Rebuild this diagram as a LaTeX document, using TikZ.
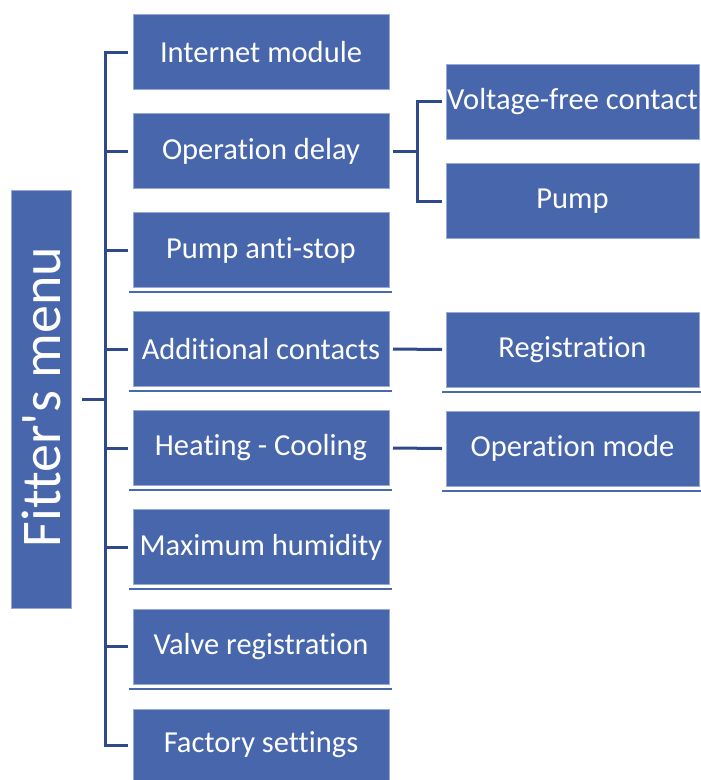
\documentclass[tikz,border=0pt]{standalone}
\usepackage{fontspec}
\setmainfont{Carlito}[Ligatures={NoCommon}]
\definecolor{boxblue}{RGB}{72,102,172}
\definecolor{boxedge}{RGB}{150,168,212}
\definecolor{connblue}{RGB}{46,74,138}
\definecolor{ulblue}{RGB}{74,106,176}
\tikzset{
  menubox/.style={rectangle, fill=boxblue, draw=boxedge, line width=0.7pt,
    text=white, inner sep=0pt, outer sep=0pt, minimum width=256pt, minimum height=75pt,
    font=\fontsize{30.5}{33}\selectfont},
  subbox/.style={menubox, minimum width=253pt},
  conn/.style={draw=connblue, line width=3pt},
  uline/.style={draw=ulblue, line width=2pt}
}
\begin{document}
\begin{tikzpicture}[x=1pt, y=-1pt]
\useasboundingbox (0,0) rectangle (701,780);
% left root
\node[menubox, minimum width=60pt, minimum height=418pt] (fm) at (41,399) {};
\node[rotate=90, text=white, font=\fontsize{56}{62}\selectfont] (fmt) at (41,397) {Fitter\textquotesingle s menu};
% main column
\node[menubox] (im) at (261,52) {Internet module};
\node[menubox] (od) at (261,151) {Operation delay};
\node[menubox] (pa) at (261,250) {Pump anti-stop};
\node[menubox] (ac) at (261,349) {Additional contacts};
\node[menubox] (hc) at (261,448) {Heating - Cooling};
\node[menubox] (mh) at (261,547) {Maximum humidity};
\node[menubox] (vr) at (261,646.5) {Valve registration};
\node[menubox, minimum height=80pt] (fs) at (261,749) {};
\node[text=white, font=\fontsize{30.5}{33}\selectfont] (fst) at (261,745) {Factory settings};
% right column
\node[subbox] (vf) at (572.5,101.5) {Voltage-free contact};
\node[subbox] (pu) at (572.5,201) {Pump};
\node[subbox] (rg) at (572.5,349.5) {Registration};
\node[subbox] (om) at (572.5,448.5) {Operation mode};
% trunk
\coordinate (trunk) at (105,0);
\coordinate (branch) at (417,0);
\draw[conn] ([xshift=-5pt]im.west) -| (trunk |- fst.west) -- ([xshift=-5pt]fst.west -| fs.west);
\foreach \n in {od,pa,ac,hc,mh,vr}{
  \draw[conn] (trunk |- \n.west) -- ([xshift=-5pt]\n.west);
}
\draw[conn] ([xshift=11pt]fm.east) -- (trunk |- fm.east);
% operation delay branch
\draw[conn] ([xshift=4pt]od.east) -- (branch |- od.east);
\draw[conn] ([xshift=-4pt]vf.west) -| (branch |- pu.west) -- ([xshift=-4pt]pu.west);
\draw[conn] ([xshift=4pt]ac.east) -- ([xshift=-4pt]rg.west);
\draw[conn] ([xshift=4pt]hc.east) -- ([xshift=-4pt]om.west);
% underlines
\foreach \n in {pa,ac,hc,mh,vr,rg,om}{
  \draw[uline] ([xshift=-4pt,yshift=-4.5pt]\n.south west) -- ([xshift=3pt,yshift=-4.5pt]\n.south east);
}
\end{tikzpicture}
\end{document}
